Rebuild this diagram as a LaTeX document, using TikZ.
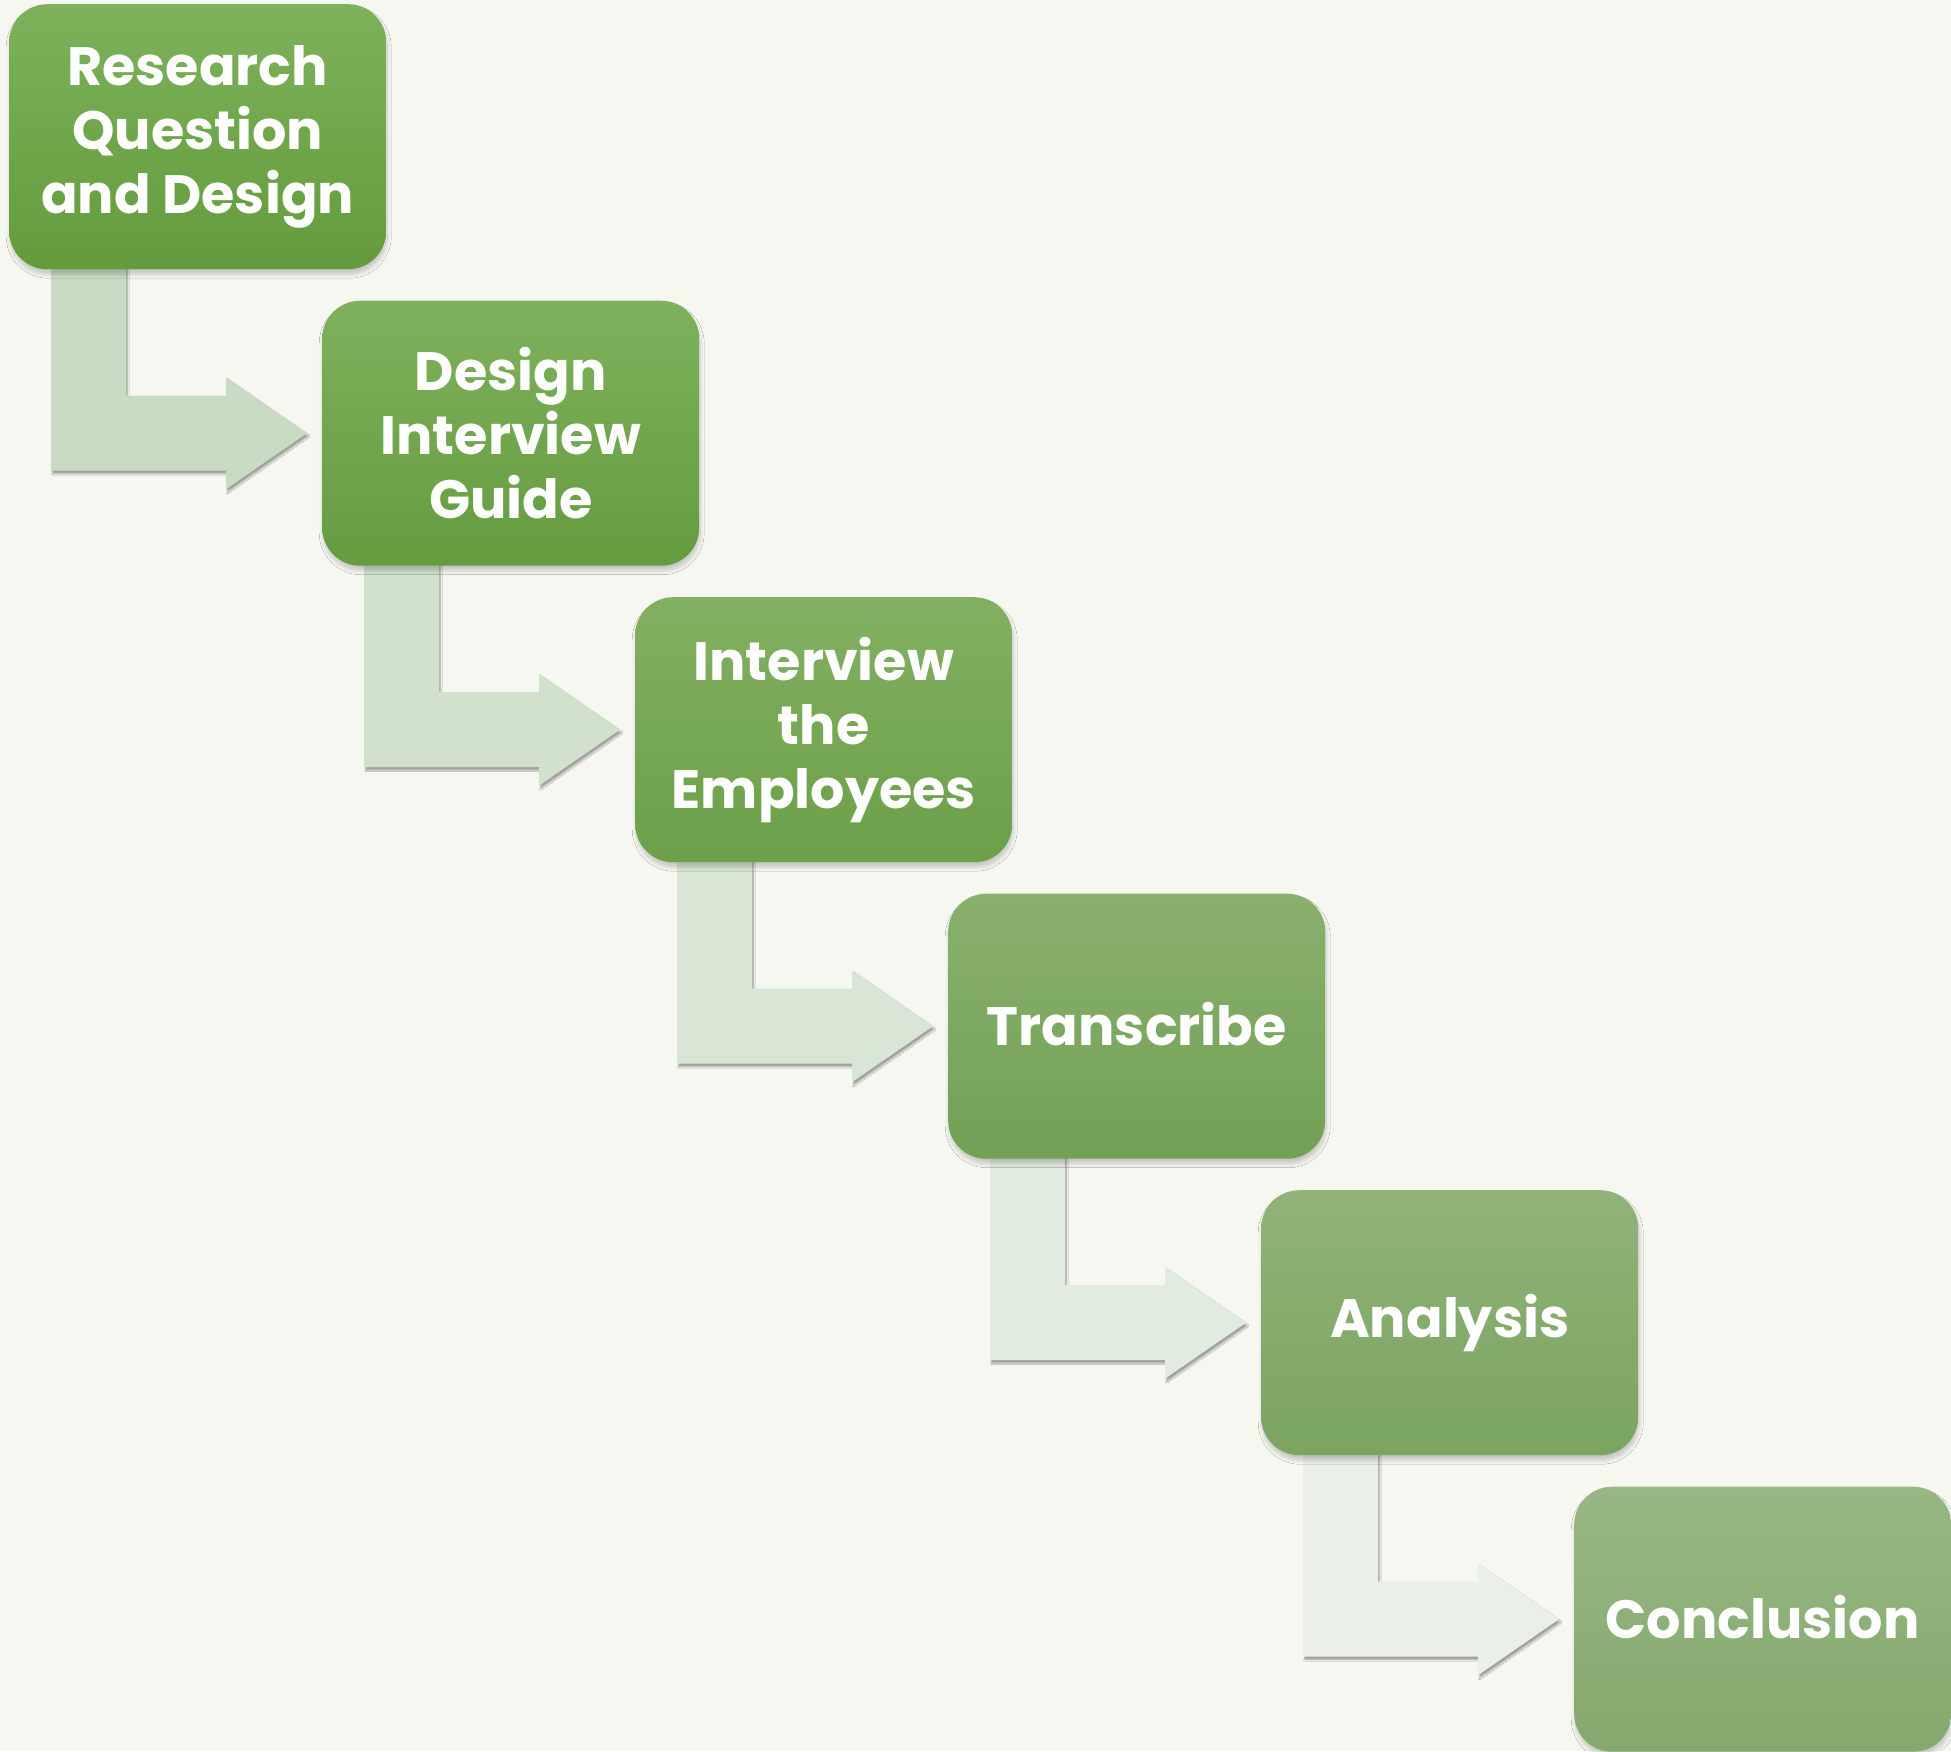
\documentclass[tikz,border=0pt]{standalone}
\usepackage{fontspec}
\newfontfamily\boxfont{Poppins}
\usetikzlibrary{calc,shadows.blur}
\pgfdeclarelayer{background}
\pgfsetlayers{background,main}
\definecolor{bgcol}{HTML}{F7F7F2}
\definecolor{ctA}{HTML}{7DB25B}\definecolor{cbA}{HTML}{639B3C}
\definecolor{ctB}{HTML}{7EB15C}\definecolor{cbB}{HTML}{659C40}
\definecolor{ctC}{HTML}{82B062}\definecolor{cbC}{HTML}{6CA049}
\definecolor{ctD}{HTML}{89B16E}\definecolor{cbD}{HTML}{72A055}
\definecolor{ctE}{HTML}{90B37A}\definecolor{cbE}{HTML}{7AA460}
\definecolor{ctF}{HTML}{97B884}\definecolor{cbF}{HTML}{84A86D}
\definecolor{arA}{HTML}{C9DCC3}
\definecolor{arB}{HTML}{D1E1CC}
\definecolor{arC}{HTML}{D9E6D5}
\definecolor{arD}{HTML}{E2EBDF}
\definecolor{arE}{HTML}{EAF0E8}
\newcommand\stepconn[3]{%
  \fill[#3, connshadow] let \p1=($(#1.south west)+(42,-6)$), \p2=($(#2.west)+(-15,0)$) in
  (\x1,\y1) -- (\x1+75pt,\y1) -- (\x1+75pt,\y2+37.5pt) -- (\x2-81pt,\y2+37.5pt)
  -- (\x2-81pt,\y2+56pt) -- (\x2,\y2) -- (\x2-81pt,\y2-56pt)
  -- (\x2-81pt,\y2-37.5pt) -- (\x1,\y2-37.5pt) -- cycle;}
\begin{document}
\begin{tikzpicture}[x=1pt,y=-1pt,
  stepbox/.style={rounded corners=38pt, minimum width=377pt, minimum height=265pt,
    inner sep=0pt, align=center, text=white, anchor=north west,
    font=\boxfont\bfseries\fontsize{54}{64}\selectfont,
    blur shadow={shadow xshift=1pt, shadow yshift=-5pt, shadow opacity=20,
      shadow blur steps=8, shadow blur radius=4pt}},
  connshadow/.style={blur shadow={shadow xshift=1.5pt, shadow yshift=-3pt,
      shadow opacity=35, shadow blur steps=4, shadow blur radius=1.5pt}}
]
\useasboundingbox (0,0) rectangle (1951,1751);
\node[stepbox, top color=ctA, bottom color=cbA] (b1) at (9,4) {Research\\Question\\and Design};
\node[stepbox, top color=ctB, bottom color=cbB] (b2) at (322,300.5) {Design\\Interview\\Guide};
\node[stepbox, top color=ctC, bottom color=cbC] (b3) at (635,597) {Interview\\the\\Employees};
\node[stepbox, top color=ctD, bottom color=cbD] (b4) at (948,893.5) {\raisebox{4pt}{Transcribe}};
\node[stepbox, top color=ctE, bottom color=cbE] (b5) at (1261,1190) {\raisebox{4pt}{Analysis}};
\node[stepbox, top color=ctF, bottom color=cbF] (b6) at (1574,1486.5) {\raisebox{4pt}{Conclusion}};
\begin{pgfonlayer}{background}
\fill[bgcol] (0,0) rectangle (1951,1751);
\stepconn{b1}{b2}{arA}
\stepconn{b2}{b3}{arB}
\stepconn{b3}{b4}{arC}
\stepconn{b4}{b5}{arD}
\stepconn{b5}{b6}{arE}
\end{pgfonlayer}
\end{tikzpicture}
\end{document}
